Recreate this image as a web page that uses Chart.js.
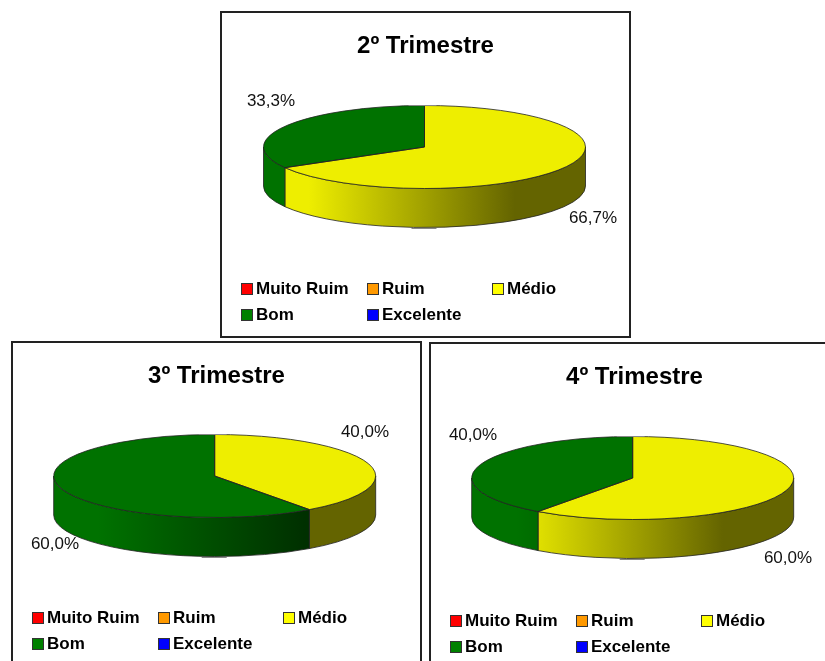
<!DOCTYPE html>
<html>
<head>
<meta charset="utf-8">
<title>Trimestres</title>
<script src="https://cdn.jsdelivr.net/npm/chart.js@4"></script>
<style>
    html, body { margin: 0; padding: 0; background: #fff; width: 825px; height: 661px; overflow: hidden; }
    canvas { position: absolute; }
</style>
</head>
<body>
<canvas id="t2" style="left:220px;top:11px" width="411" height="327"></canvas>
<canvas id="t3" style="left:11px;top:341px" width="411" height="327"></canvas>
<canvas id="t4" style="left:429px;top:342px" width="411" height="327"></canvas>
<script>
// Categories and values
const categories = ['Muito Ruim', 'Ruim', 'Médio', 'Bom', 'Excelente'];
const valuesT2 = [0, 0, 66.7, 33.3, 0];
const valuesT3 = [0, 0, 40, 60, 0];
const valuesT4 = [0, 0, 60, 40, 0];

const legendColors = ['#ff0000', '#ff9900', '#ffff00', '#008000', '#0000ff'];
const topColors = ['#ee0000', '#ee8e00', '#eeee00', '#007200', '#0000ee'];
const darkColors = ['#660000', '#663d00', '#646400', '#003000', '#000066'];

const fontName = '"Liberation Sans", Arial, sans-serif';
const RX = 161, RY = 41.5, DEPTH = 39;

function fmtPct(v) {
    return v.toFixed(1).replace('.', ',') + '%';
}

// Squashes the flat pie into an ellipse and draws the side wall under it
const pie3d = {
    id: 'pie3d',
    beforeDatasetsDraw(chart, args, opts) {
        const ctx = chart.ctx;
        const arcs = chart.getDatasetMeta(0).data;
        const cx = opts.cx, cy = opts.cy;

        arcs.forEach((arc, i) => {
            if (!chart.data.datasets[0].data[i]) return;
            // only the front half of the pie shows a wall
            const a = Math.max(arc.startAngle, 0);
            const b = Math.min(arc.endAngle, Math.PI);
            if (b <= a) return;

            const grad = ctx.createLinearGradient(cx - RX, 0, cx + RX, 0);
            grad.addColorStop(0, topColors[i]);
            grad.addColorStop(0.14, topColors[i]);
            grad.addColorStop(0.78, darkColors[i]);
            grad.addColorStop(1, darkColors[i]);

            ctx.beginPath();
            ctx.ellipse(cx, cy, RX, RY, 0, a, b);
            ctx.ellipse(cx, cy + DEPTH, RX, RY, 0, b, a, true);
            ctx.closePath();
            ctx.fillStyle = grad;
            ctx.fill();
            ctx.strokeStyle = '#222';
            ctx.lineWidth = 0.8;
            ctx.stroke();
        });

        const first = arcs[0];
        ctx.save();
        ctx.translate(cx, cy);
        ctx.scale(1, RY / RX);
        ctx.translate(-first.x, -first.y);
    },
    afterDatasetsDraw(chart, args, opts) {
        const ctx = chart.ctx;
        ctx.restore();

        const arcs = chart.getDatasetMeta(0).data;
        const cx = opts.cx, cy = opts.cy;

        // slice outlines on the top face
        arcs.forEach((arc, i) => {
            if (!chart.data.datasets[0].data[i]) return;
            ctx.beginPath();
            ctx.moveTo(cx, cy);
            ctx.ellipse(cx, cy, RX, RY, 0, arc.startAngle, arc.endAngle);
            ctx.closePath();
            ctx.strokeStyle = '#222';
            ctx.lineWidth = 0.8;
            ctx.stroke();
        });

        // little grey marks at the top and bottom of the pie
        ctx.strokeStyle = '#888';
        ctx.lineWidth = 1;
        ctx.beginPath();
        ctx.moveTo(cx - 16, Math.round(cy - RY) - 0.5);
        ctx.lineTo(cx + 12, Math.round(cy - RY) - 0.5);
        ctx.moveTo(cx - 13, Math.round(cy + RY + DEPTH) + 0.5);
        ctx.lineTo(cx + 12, Math.round(cy + RY + DEPTH) + 0.5);
        ctx.stroke();

        // percentage labels
        ctx.font = '17px ' + fontName;
        ctx.fillStyle = '#111';
        ctx.textAlign = 'center';
        ctx.textBaseline = 'middle';
        opts.labels.forEach(l => {
            ctx.fillText(fmtPct(chart.data.datasets[0].data[l.index]), l.x, l.y);
        });
    }
};

// Frame of the panel plus the legend laid out in three columns
const panelFrame = {
    id: 'panelFrame',
    beforeDraw(chart) {
        const ctx = chart.ctx;
        ctx.fillStyle = '#fff';
        ctx.fillRect(0, 0, chart.width, chart.height);
        ctx.strokeStyle = '#222';
        ctx.lineWidth = 2;
        ctx.strokeRect(1, 1, chart.width - 2, chart.height - 2);
    },
    afterDraw(chart, args, opts) {
        const ctx = chart.ctx;
        const swatchX = [22, 148, 273];
        ctx.font = 'bold 17px ' + fontName;
        ctx.textAlign = 'left';
        ctx.textBaseline = 'middle';
        chart.data.labels.forEach((label, i) => {
            const col = i % 3, row = Math.floor(i / 3);
            const x = swatchX[col];
            const y = opts.legendY + row * 26;
            ctx.fillStyle = legendColors[i];
            ctx.fillRect(x, y - 5, 10, 10);
            ctx.strokeStyle = '#333';
            ctx.lineWidth = 1;
            ctx.strokeRect(x - 0.5, y - 5.5, 11, 11);
            ctx.fillStyle = '#000';
            ctx.fillText(label, x + 14, y);
        });
    }
};

function makeChart(id, title, values, cx, cy, labels, legendY) {
    return new Chart(document.getElementById(id), {
        type: 'pie',
        data: {
            labels: categories,
            datasets: [{
                data: values,
                backgroundColor: topColors,
                borderWidth: 0,
                clip: false
            }]
        },
        options: {
            responsive: false,
            animation: false,
            radius: RX,
            plugins: {
                legend: { display: false },
                tooltip: { enabled: false },
                title: {
                    display: true,
                    text: title,
                    color: '#000',
                    font: { family: fontName, size: 24, weight: 'bold' },
                    padding: { top: 21, bottom: 0 }
                },
                pie3d: { cx: cx, cy: cy, labels: labels },
                panelFrame: { legendY: legendY }
            }
        },
        plugins: [panelFrame, pie3d]
    });
}

makeChart('t2', '2º Trimestre', valuesT2, 204.5, 136,
    [{ index: 3, x: 51, y: 90 }, { index: 2, x: 373, y: 207 }], 278);
makeChart('t3', '3º Trimestre', valuesT3, 203.7, 135,
    [{ index: 2, x: 354, y: 91 }, { index: 3, x: 44, y: 203 }], 277);
makeChart('t4', '4º Trimestre', valuesT4, 203.7, 136,
    [{ index: 3, x: 44, y: 93 }, { index: 2, x: 359, y: 216 }], 279);
</script>
</body>
</html>
